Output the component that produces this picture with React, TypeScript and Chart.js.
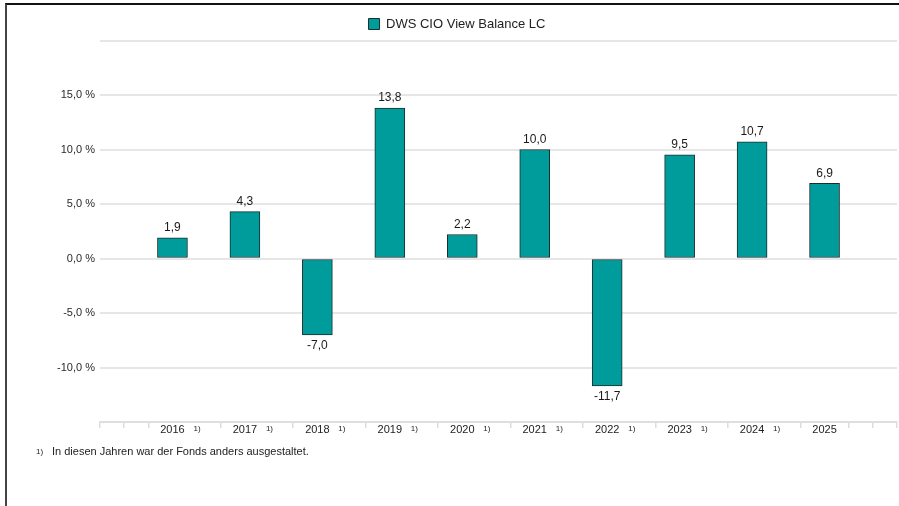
import React, { useEffect, useRef } from "react";
import { Chart, registerables } from "chart.js";

Chart.register(...registerables);

// ---- data ----
const years = [2016, 2017, 2018, 2019, 2020, 2021, 2022, 2023, 2024, 2025];
const returns = [1.9, 4.3, -7.0, 13.8, 2.2, 10.0, -11.7, 9.5, 10.7, 6.9];
const footnoted = [true, true, true, true, true, true, true, true, true, false];
const seriesLabel = "DWS CIO View Balance LC";
const yTicks = [-15, -10, -5, 0, 5, 10, 15, 20];
const yLabelledTicks = [-10, -5, 0, 5, 10, 15];
const xTickMarks = [
  2015, 2015 + 1 / 3, 2015 + 2 / 3,
  2016 + 2 / 3, 2017 + 2 / 3, 2018 + 2 / 3, 2019 + 2 / 3, 2020 + 2 / 3,
  2021 + 2 / 3, 2022 + 2 / 3, 2023 + 2 / 3, 2024 + 2 / 3,
  2025 + 1 / 3, 2025 + 2 / 3, 2026,
];
const footnoteMark = "1)";
const footnoteText = "In diesen Jahren war der Fonds anders ausgestaltet.";

const FONT = "'Liberation Sans', Arial, Helvetica, sans-serif";
const TEAL = "#009c9c";
const BAR_BORDER = "#1a2c2c";

const fmt = (v: number) => v.toFixed(1).replace(".", ",");

const labelPlugin = {
  id: "valueAndYearLabels",
  afterDatasetsDraw(chart: any) {
    const ctx = chart.ctx;
    const meta = chart.getDatasetMeta(0);
    ctx.save();
    ctx.fillStyle = "#1a1a1a";
    ctx.font = `12px ${FONT}`;
    ctx.textAlign = "center";
    meta.data.forEach((bar: any, i: number) => {
      const v = returns[i];
      if (v >= 0) {
        ctx.textBaseline = "bottom";
        ctx.fillText(fmt(v), bar.x, bar.y - 4);
      } else {
        ctx.textBaseline = "top";
        ctx.fillText(fmt(v), bar.x, bar.y + 5);
      }
    });
    const xs = chart.scales.x;
    const bottom = chart.chartArea.bottom;
    years.forEach((yr, i) => {
      const x = xs.getPixelForValue(yr);
      ctx.font = `11px ${FONT}`;
      ctx.textAlign = "center";
      ctx.textBaseline = "middle";
      ctx.fillStyle = "#222";
      ctx.fillText(String(yr), x, bottom + 8);
      if (footnoted[i]) {
        ctx.font = `8px ${FONT}`;
        ctx.textAlign = "left";
        ctx.textBaseline = "top";
        ctx.fillText(footnoteMark, x + 21, bottom + 3);
      }
    });
    ctx.restore();
  },
};

export default function App() {
  const ref = useRef<HTMLCanvasElement | null>(null);

  useEffect(() => {
    if (!ref.current) return;
    const chart = new Chart(ref.current, {
      type: "bar",
      data: {
        datasets: [
          {
            label: seriesLabel,
            data: years.map((y, i) => ({ x: y, y: returns[i] })),
            backgroundColor: TEAL,
            borderColor: BAR_BORDER,
            borderWidth: 1,
            borderSkipped: false,
            barThickness: 30,
          } as any,
        ],
      },
      options: {
        responsive: false,
        animation: false,
        devicePixelRatio: 1,
        layout: { padding: { left: 17, right: 2, top: 17.5, bottom: 74 } },
        plugins: {
          legend: {
            display: true,
            position: "top",
            labels: {
              boxWidth: 11,
              boxHeight: 11,
              padding: 0,
              color: "#222",
              font: { size: 13, family: FONT },
            },
          },
          tooltip: { enabled: false },
        },
        scales: {
          x: {
            type: "linear",
            min: 2015,
            max: 2026,
            offset: false,
            grid: {
              offset: false,
              drawOnChartArea: false,
              drawTicks: true,
              tickLength: 6,
              color: "#dddddd",
              lineWidth: 1.5,
            },
            border: { display: true, color: "#dedede", width: 2 },
            ticks: { display: false },
            afterBuildTicks: (s: any) => {
              s.ticks = xTickMarks.map((v) => ({ value: v }));
            },
            afterFit: (s: any) => {
              s.height = 10;
            },
          },
          y: {
            min: -15,
            max: 20,
            afterBuildTicks: (s: any) => {
              s.ticks = yTicks.map((v) => ({ value: v }));
            },
            ticks: {
              callback: (v: any) =>
                yLabelledTicks.includes(Number(v)) ? `${fmt(Number(v))} %` : "",
              font: { size: 11, family: FONT },
              color: "#2a2a2a",
              padding: 5,
            },
            grid: { color: "#e6e6e6", lineWidth: 2, drawTicks: false },
            border: { display: false },
            afterFit: (s: any) => {
              s.width = 83;
            },
          },
        },
      } as any,
      plugins: [labelPlugin],
    });
    return () => chart.destroy();
  }, []);

  return (
    <div
      style={{
        position: "fixed",
        left: 0,
        top: 0,
        width: 899,
        height: 506,
        background: "#fff",
        overflow: "hidden",
        fontFamily: FONT,
      }}
    >
      <canvas
        ref={ref}
        width={899}
        height={506}
        style={{ position: "absolute", left: 0, top: 0, width: 899, height: 506 }}
      />
      <div
        style={{
          position: "absolute",
          left: 5,
          top: 3,
          width: 894,
          height: 503,
          borderTop: "2px solid #111",
          borderLeft: "2px solid #444",
          boxSizing: "border-box",
          pointerEvents: "none",
        }}
      />
      <div
        style={{
          position: "absolute",
          left: 36,
          top: 447,
          fontSize: 8,
          lineHeight: "10px",
          color: "#222",
        }}
      >
        {footnoteMark}
      </div>
      <div
        style={{
          position: "absolute",
          left: 52,
          top: 445,
          fontSize: 11,
          lineHeight: "13px",
          color: "#222",
          whiteSpace: "nowrap",
        }}
      >
        {footnoteText}
      </div>
    </div>
  );
}
